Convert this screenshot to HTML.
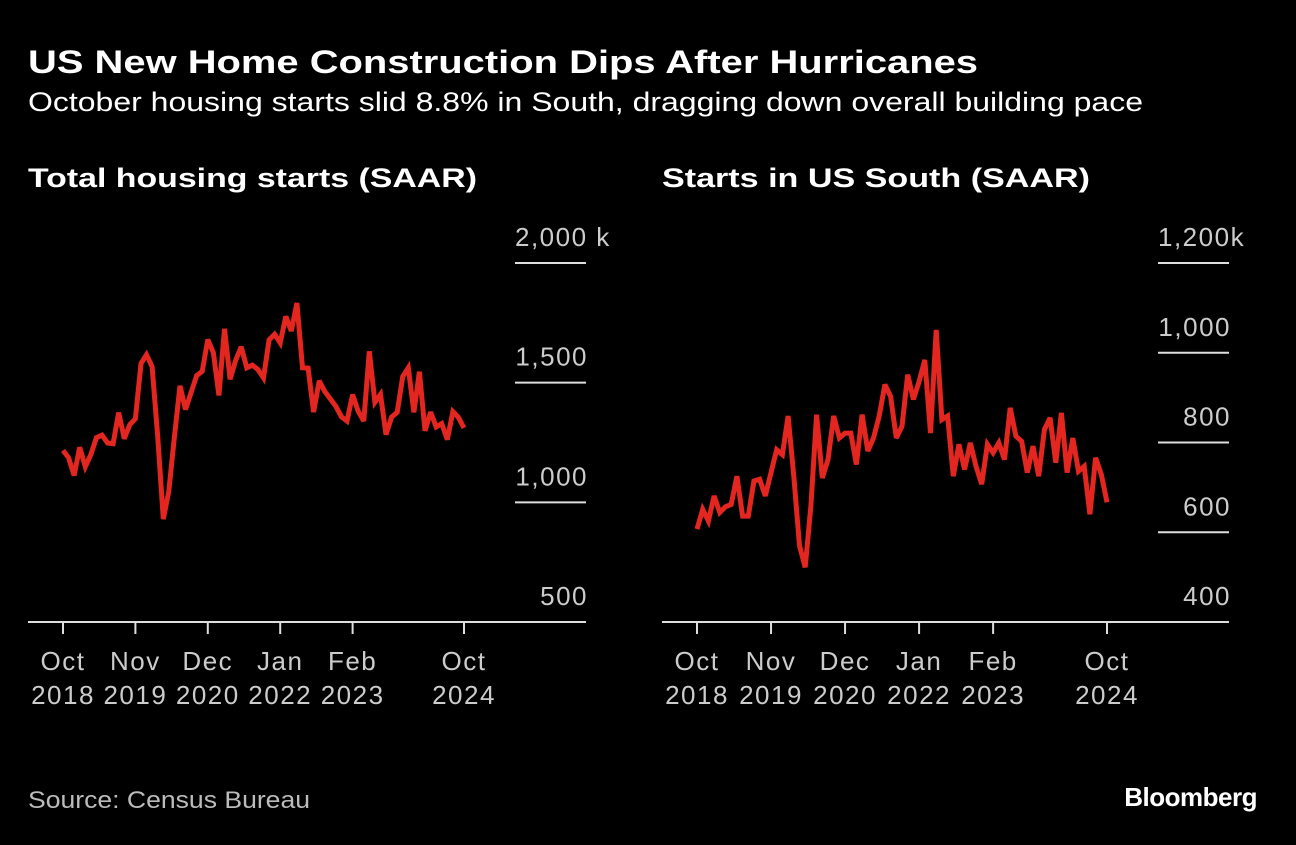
<!DOCTYPE html>
<html><head><meta charset="utf-8"><style>
body{margin:0;background:#000;width:1296px;height:840px;overflow:hidden;font-family:"Liberation Sans",sans-serif;}
svg text{font-family:"Liberation Sans",sans-serif;}
</style></head><body>
<svg id="c" width="1296" height="840" viewBox="0 0 1296 840">
<rect width="1296" height="840" fill="#000"/>
<text x="28" y="73" fill="#fff" font-size="32" font-weight="bold" textLength="950" lengthAdjust="spacingAndGlyphs">US New Home Construction Dips After Hurricanes</text>
<text x="28" y="111" fill="#fff" font-size="27" textLength="1115" lengthAdjust="spacingAndGlyphs">October housing starts slid 8.8% in South, dragging down overall building pace</text>
<text x="28" y="187" fill="#fff" font-size="27" font-weight="bold" textLength="449" lengthAdjust="spacingAndGlyphs">Total housing starts (SAAR)</text>
<text x="662" y="187" fill="#fff" font-size="27" font-weight="bold" textLength="428" lengthAdjust="spacingAndGlyphs">Starts in US South (SAAR)</text>
<text x="28" y="808" fill="#bbb" font-size="24" textLength="282" lengthAdjust="spacingAndGlyphs">Source: Census Bureau</text>
<text x="1257" y="806" fill="#fff" font-size="26" font-weight="bold" text-anchor="end" letter-spacing="-0.5">Bloomberg</text>
<g id="left"></g><g id="right"></g>
</svg>
<script>
const xLabelsTop = ["Oct","Nov","Dec","Jan","Feb","Oct"];
const xLabelsBot = ["2018","2019","2020","2022","2023","2024"];
const xTickMonths = [0,13,26,39,52,72];
const totalStarts = [1217,1186,1112,
1230,1149,1199,1270,1281,1248,1245,1375,1266,1325,1349,1580,
1617,1567,1276,930,1046,1273,1487,1388,1459,1530,1547,1680,
1625,1447,1725,1514,1594,1650,1562,1573,1555,1520,1679,1702,
1666,1777,1716,1833,1562,1561,1377,1508,1463,1432,1401,1357,
1340,1450,1380,1340,1631,1418,1451,1283,1356,1376,1525,1562,
1376,1546,1299,1377,1315,1329,1262,1379,1355,1311];
const southStarts = [607,651,625,681,644,657,662,725,636,636,714,718,681,733,784,773,859,725,570,522,659,862,721,762,859,810,821,821,751,862,781,810,859,929,903,810,836,951,896,936,984,821,1051,851,859,725,796,740,799,747,707,796,777,799,762,877,814,803,733,792,725,829,855,755,866,733,810,736,747,640,766,729,667];
const leftTicks = [2000,1500,1000,500];
const leftTickLabels = ["2,000 k","1,500","1,000","500"];
const rightTicks = [1200,1000,800,600,400];
const rightTickLabels = ["1,200k","1,000","800","600","400"];

const NS="http://www.w3.org/2000/svg";
function mk(tag,attrs,parent){const e=document.createElementNS(NS,tag);for(const k in attrs)e.setAttribute(k,attrs[k]);parent.appendChild(e);return e;}

function panel(g,cfg){
  const x=m=>cfg.x0+(cfg.x1-cfg.x0)*m/72;
  const y=v=>cfg.yTop+(cfg.yBot-cfg.yTop)*(cfg.vMax-v)/(cfg.vMax-cfg.vMin);
  cfg.ticks.forEach((t,i)=>{
    const yy=y(t);
    if(t!==cfg.vMin){
      const ln=mk('line',{x1:cfg.gx0,x2:cfg.gx1,y1:yy,y2:yy,stroke:'#ddd','stroke-width':2},g);
      
      
    }
    const first=(i===0);
    const tx=mk('text',{x:first?cfg.gx0:cfg.gx1+2,y:yy-17,fill:'#ccc','font-size':26,'text-anchor':first?'start':'end','letter-spacing':1.5},g);
    tx.textContent=cfg.labels[i];
    
    
  });
  const ax=mk('line',{x1:cfg.ax0,x2:cfg.gx1,y1:cfg.yBot,y2:cfg.yBot,stroke:'#ddd','stroke-width':2},g);
  
  
  xTickMonths.forEach((m,i)=>{
    const xx=x(m);
    const tk=mk('line',{x1:xx,x2:xx,y1:cfg.yBot,y2:cfg.yBot+12,stroke:'#ddd','stroke-width':2},g);
    
    
    const t1=mk('text',{x:xx,y:670,fill:'#ccc','font-size':26,'text-anchor':'middle','letter-spacing':1.5},g);
    t1.textContent=xLabelsTop[i];
    
    
    const t2=mk('text',{x:xx,y:704,fill:'#ccc','font-size':26,'text-anchor':'middle','letter-spacing':1.5},g);
    t2.textContent=xLabelsBot[i];
    
    
  });
  const d=cfg.data.map((v,i)=>(i?'L':'M')+x(i).toFixed(1)+' '+y(v).toFixed(1)).join(' ');
  const p=mk('path',{d:d,fill:'none',stroke:'#e3261f','stroke-width':5,'stroke-linejoin':'miter','stroke-miterlimit':3},g);
  
  
}
panel(document.getElementById('left'),{x0:63,x1:464,yTop:263,yBot:622,vMax:2000,vMin:500,gx0:515,gx1:586,ax0:28,ticks:leftTicks,labels:leftTickLabels,data:totalStarts,name:'total-starts-line'});
panel(document.getElementById('right'),{x0:697,x1:1107,yTop:263,yBot:622,vMax:1200,vMin:400,gx0:1158,gx1:1229,ax0:662,ticks:rightTicks,labels:rightTickLabels,data:southStarts,name:'south-starts-line'});
</script>
</body></html>
